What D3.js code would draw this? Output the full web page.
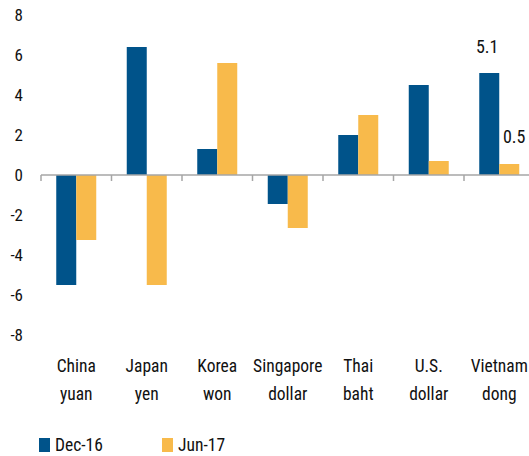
<!DOCTYPE html>
<html><head><meta charset="utf-8">
<script src="https://cdn.jsdelivr.net/npm/d3@7"></script>
<style>
body{margin:0;background:#fff;}
text{font-family:"Liberation Sans Narrow","Roboto Condensed","Arial Narrow",sans-serif;fill:#111;}
</style></head>
<body>
<svg id="c" width="529" height="456"></svg>
<script>
const categories = [["China","yuan"],["Japan","yen"],["Korea","won"],["Singapore","dollar"],["Thai","baht"],["U.S.","dollar"],["Vietnam","dong"]];
const seriesNames = ["Dec-16","Jun-17"];
const dec16 = [-5.5, 6.4, 1.3, -1.45, 2.0, 4.5, 5.1];
const jun17 = [-3.25, -5.5, 5.6, -2.65, 3.0, 0.7, 0.55];
const yTicks = [8,6,4,2,0,-2,-4,-6,-8];
const annotations = [{cat:6, series:0, text:"5.1"},{cat:6, series:1, text:"0.5"}];
const colors = ["#00538A","#F8BA4B"];

const svg = d3.select("#c");
const y = d3.scaleLinear().domain([-8,8]).range([335,15]);
const x = d3.scaleBand().domain(d3.range(categories.length)).range([41,534.5]);
const barW = 20;
const series = [dec16, jun17];

// y tick labels
svg.append("g").selectAll("text").data(yTicks).join("text")
  .attr("x",23).attr("y",d=>y(d)).attr("dy","0.35em")
  .attr("text-anchor","end").attr("font-size",17).text(d=>d);

// bars
series.forEach((vals,si)=>{
  svg.append("g").selectAll("rect").data(vals).join("rect")
    .attr("x",(d,i)=>x(i)+x.bandwidth()/2 - barW + si*barW)
    .attr("width",barW)
    .attr("y",d=>y(Math.max(0,d)))
    .attr("height",d=>Math.abs(y(d)-y(0)))
    .attr("fill",colors[si]);
});

// axis
const ax = svg.append("g").attr("transform",`translate(0,${y(0)})`);
ax.append("line").attr("x1",41).attr("x2",529).attr("stroke","#A6A6A6").attr("stroke-width",1.5);
ax.selectAll("line.t").data(d3.range(categories.length)).join("line").attr("class","t")
  .attr("x1",d=>x(d)).attr("x2",d=>x(d)).attr("y1",0).attr("y2",6)
  .attr("stroke","#A6A6A6").attr("stroke-width",1.5);

// category labels
const cl = svg.append("g").selectAll("text").data(categories).join("text")
  .attr("text-anchor","middle").attr("font-size",17.5);
cl.append("tspan").attr("x",(d,i)=>x(i)+x.bandwidth()/2).attr("y",372).text(d=>d[0]);
cl.append("tspan").attr("x",(d,i)=>x(i)+x.bandwidth()/2).attr("y",400).text(d=>d[1]);

// annotations
svg.append("g").selectAll("text").data(annotations).join("text")
  .attr("text-anchor","middle").attr("font-size",18)
  .attr("x",d=>x(d.cat)+x.bandwidth()/2 - barW/2 + d.series*barW + (d.series?5:-2))
  .attr("y",d=>d.series? 143 : y(series[d.series][d.cat]) - 20)
  .text(d=>d.text);

// legend
const lg = svg.append("g").selectAll("g").data(seriesNames).join("g")
  .attr("transform",(d,i)=>`translate(${39+i*123},438)`);
lg.append("rect").attr("width",11).attr("height",14).attr("fill",(d,i)=>colors[i]);
lg.append("text").attr("x",16).attr("y",13).attr("font-size",17.5).text(d=>d);
</script>
</body></html>
